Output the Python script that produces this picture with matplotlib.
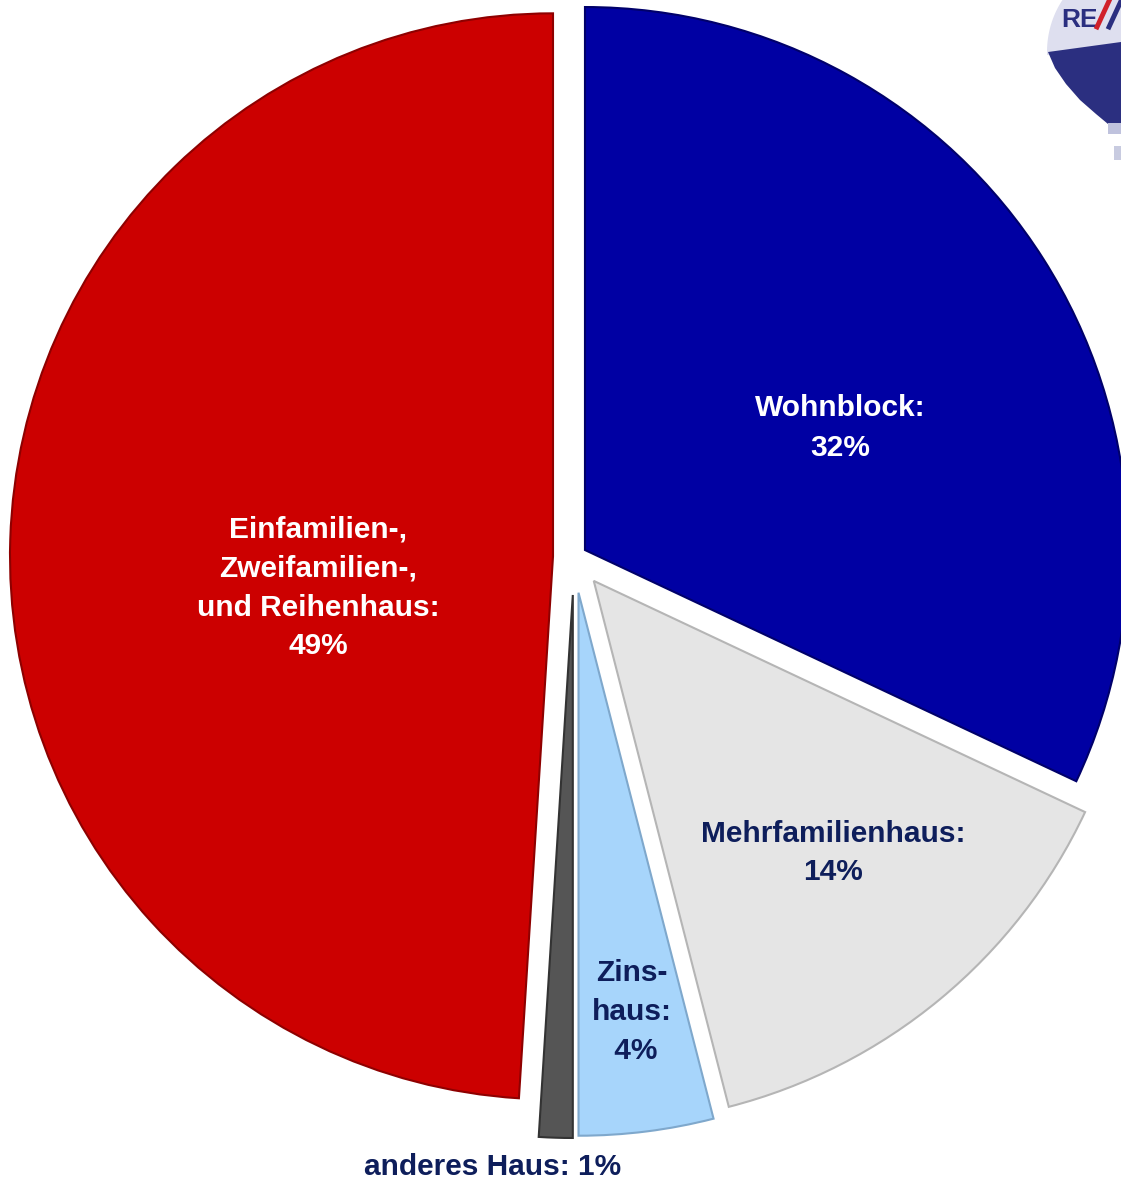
import matplotlib
matplotlib.use("Agg")
import matplotlib.pyplot as plt
from matplotlib.patches import Polygon, Rectangle
from matplotlib.lines import Line2D
import numpy as np

categories = ["Wohnblock", "Mehrfamilienhaus", "Zinshaus", "anderes Haus",
              "Einfamilien-, Zweifamilien-, und Reihenhaus"]
values = [32, 14, 4, 1, 49]
label_texts = ["Wohnblock:\n32%", "Mehrfamilienhaus:\n14%", "Zins-\nhaus:\n 4%",
               "anderes Haus: 1%", "Einfamilien-,\nZweifamilien-,\nund Reihenhaus:\n49%"]
colors = ["#0000A3", "#E5E5E5", "#A7D5FB", "#555555", "#CC0000"]
edge_colors = ["#00006A", "#B5B5B5", "#7FA8CC", "#333333", "#8E0000"]
text_colors = ["white", "#0E1E5B", "#0E1E5B", "#0E1E5B", "white"]

W, H = 1121, 1185
fig = plt.figure(figsize=(W / 100, H / 100), dpi=100)
ax = fig.add_axes([0, 0, 1, 1])

cx, cy, R = 574, H - 557, 543
explode_px = [13, 31, 36, 38, 21]
wedges, _ = ax.pie(values, colors=colors, startangle=90, counterclock=False,
                   center=(cx, cy), radius=R, explode=explode_px,
                   wedgeprops=dict(linewidth=1.5), frame=True)
for w, ec in zip(wedges, edge_colors):
    w.set_edgecolor(ec)
ax.set_xlim(0, W)
ax.set_ylim(0, H)
ax.set_aspect("equal")
ax.axis("off")

# label positions in pixel coordinates (x, y from top)
label_pos = [(840, 428), (833, 853), (632, 1012), (493, 1167), (318, 588)]
for txt, (x, y), tc in zip(label_texts, label_pos, text_colors):
    ax.text(x, H - y, txt, ha="center", va="center", color=tc,
            fontsize=21.5, fontweight="bold", family="Liberation Sans",
            linespacing=1.5, multialignment="center")

# simple balloon logo in top-right corner
th = np.radians(np.linspace(140, 182, 20))
upper = [(1125 + 78 * np.cos(a), H - 52 + 87 * np.sin(a)) for a in th]
upper = [(1121, H), (1062, H)] + upper + [(1121, H - 54)]
ax.add_patch(Polygon(upper, closed=True, facecolor="#DEDFEF", edgecolor="none", zorder=5))
navy = [(1048, H - 52), (1121, H - 42), (1121, H - 124), (1108, H - 124),
        (1096, H - 114), (1080, H - 100), (1066, H - 84), (1055, H - 68)]
ax.add_patch(Polygon(navy, closed=True, facecolor="#2B2F80", edgecolor="none", zorder=6))
ax.add_patch(Rectangle((1108, H - 134), 13, 11, facecolor="#BFC2DD",
                       edgecolor="none", zorder=6))
ax.add_patch(Rectangle((1114, H - 160), 7, 14, facecolor="#C8CBE0",
                       edgecolor="none", zorder=6))
ax.text(1061, H - 27, "RE", color="#2B2F80", fontsize=19, fontweight="bold",
        family="Liberation Sans", ha="left", va="baseline", zorder=7)
ax.add_line(Line2D([1097, 1109], [H - 27, H - 1], color="#D0202A", lw=3.5, zorder=7))
ax.add_line(Line2D([1109, 1121], [H - 27, H - 1], color="#2B2F80", lw=3.5, zorder=7))

fig.savefig("out.png", dpi=100)
